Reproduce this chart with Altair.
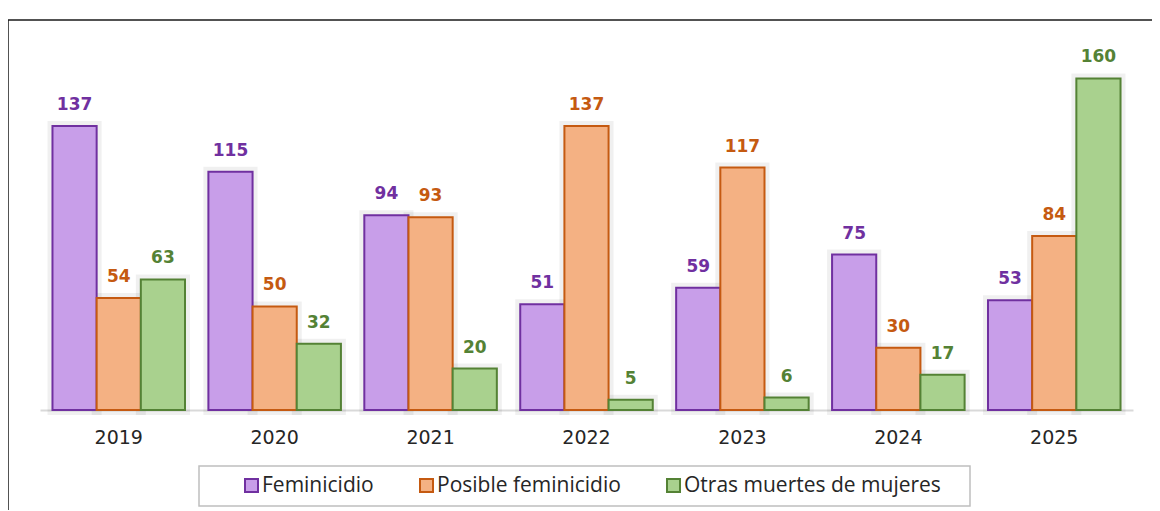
import altair as alt
import pandas as pd

years = ["2019", "2020", "2021", "2022", "2023", "2024", "2025"]
series = ["Feminicidio", "Posible feminicidio", "Otras muertes de mujeres"]
feminicidio = [137, 115, 94, 51, 59, 75, 53]
posible = [54, 50, 93, 137, 117, 30, 84]
otras = [63, 32, 20, 5, 6, 17, 160]

fills = ["#c89ee9", "#f4b183", "#a9d18e"]
strokes = ["#7030a0", "#c55a11", "#548235"]

rows = []
for name, vals in zip(series, [feminicidio, posible, otras]):
    for y, v in zip(years, vals):
        rows.append({"year": y, "serie": name, "value": v})
df = pd.DataFrame(rows)

xenc = alt.X("year:N", sort=years, title=None,
             scale=alt.Scale(paddingInner=0.15, paddingOuter=0.08),
             axis=alt.Axis(labelAngle=0, labelFont="DejaVu Sans", labelFontSize=19,
                           labelColor="#262626", ticks=False, domainColor="#d9d9d9",
                           domainWidth=2, labelPadding=18))
yenc = alt.Y("value:Q", scale=alt.Scale(domain=[0, 180]), axis=None)
off = alt.XOffset("serie:N", sort=series, scale=alt.Scale(paddingInner=0, paddingOuter=0))

legend = alt.Legend(title=None, orient="none", legendX=201, legendY=438,
                    direction="horizontal", columns=3, symbolType="square",
                    symbolSize=169, symbolStrokeWidth=2, labelLimit=0,
                    labelFont="Open Sans", labelFontSize=21,
                    labelColor="#262626", columnPadding=42, padding=0, labelOffset=0)

base = alt.Chart(df)

shadow = base.mark_bar(stroke="#000000", strokeOpacity=0.06, strokeWidth=10, fill="#000000",
                       fillOpacity=0).encode(x=xenc, y=yenc, xOffset=off)

bars = base.mark_bar(strokeWidth=2).encode(
    x=xenc, y=yenc, xOffset=off,
    fill=alt.Fill("serie:N", sort=series, scale=alt.Scale(domain=series, range=fills),
                  legend=legend),
    stroke=alt.Stroke("serie:N", sort=series, scale=alt.Scale(domain=series, range=strokes),
                      legend=legend),
)

labels = base.mark_text(font="DejaVu Sans", fontWeight="bold", fontSize=17,
                        baseline="alphabetic", dy=-16).encode(
    x=xenc, y=yenc, xOffset=off, text="value:Q",
    color=alt.Color("serie:N", sort=series, scale=alt.Scale(domain=series, range=strokes),
                    legend=None),
)

one = pd.DataFrame({"k": [0]})
border = alt.Chart(one).mark_rect(
    fill=None, stroke="#1a1a1a", strokeWidth=1.5).encode(
    x=alt.value(-32), x2=alt.value(1300), y=alt.value(-17), y2=alt.value(700))

legend_box = alt.Chart(one).mark_rect(
    fill="#ffffff", stroke="#bfbfbf", strokeWidth=1.5).encode(
    x=alt.value(159), x2=alt.value(930), y=alt.value(429), y2=alt.value(469))

chart = alt.layer(border, legend_box, shadow, bars, labels).properties(
    width=1093, height=373,
    padding={"left": 32, "top": 29, "right": 19, "bottom": 100},
    autosize=alt.AutoSizeParams(type="none"),
).configure_view(stroke=None)

chart.save("out.html", embed_options={"renderer": "svg", "actions": False})
